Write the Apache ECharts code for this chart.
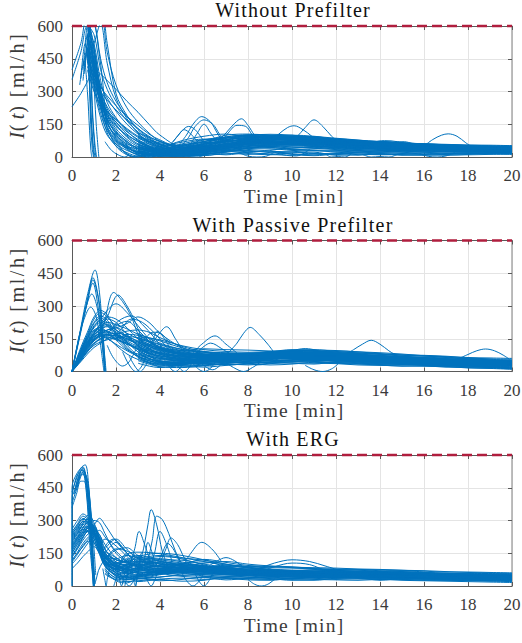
<!DOCTYPE html>
<html><head><meta charset="utf-8">
<style>html,body{margin:0;padding:0;background:#fff}#c{width:522px;height:643px}
#c text[style*="20px"],#c text[style*="19.5px"]{letter-spacing:1.2px}
#c text[style*="20.2px"]{letter-spacing:2.5px}</style>
<script src="https://cdn.jsdelivr.net/npm/echarts@6/dist/echarts.min.js"></script></head>
<body><div id="c"></div>
<script>
const panelTitles = ['Without Prefilter','With Passive Prefilter','With ERG'];
const xTicksMax = 20, yTicksMax = 600, limitValue = 600;

const timesTop = [0,.4,.7,1,1.3,1.6,2,2.5,3,3.5,4,5,6,7,8,10,12,14,16,18,20];
const runsTop = [
[400,520,640,620,450,340,255,185,130,90,60,30,35,55,70,78,66,52,44,36,30],
[355,480,600,560,400,310,235,165,115,80,55,25,30,48,62,70,60,50,40,34,28],
[230,290,345,400,380,350,310,255,205,150,100,45,40,55,65,72,62,55,48,42,38],
[null,null,560,450,330,270,210,150,105,70,48,22,28,45,60,66,58,46,38,32,26],
[null,null,610,520,350,250,180,120,75,50,35,20,32,52,72,85,72,58,48,40,34],
[null,null,540,470,310,220,160,105,70,45,30,28,50,70,85,90,78,62,52,44,38],
[null,null,500,400,280,210,150,90,55,35,28,40,65,85,95,88,70,60,50,42,36],
[null,null,580,500,300,190,120,70,40,25,22,38,60,80,90,96,82,66,56,48,40],
[null,null,520,380,250,170,110,65,30,12,15,30,55,75,88,82,74,64,54,46,42],
[null,null,470,330,220,150,95,50,20,8,18,35,58,78,100,92,80,68,58,50,44],
[null,null,620,420,240,140,80,35,10,0,10,25,42,60,78,84,76,62,52,46,40],
[null,null,450,360,300,260,215,170,130,95,70,50,60,72,80,76,68,60,50,42,35],
[null,null,530,640,660,480,330,225,160,110,72,42,48,62,74,80,70,58,46,38,32],
[null,null,600,680,700,520,290,190,125,85,58,36,44,58,68,74,64,54,44,36,30],
[null,null,430,520,610,430,270,175,110,70,45,30,38,50,60,68,60,50,42,35,30],
[null,null,490,340,200,120,70,40,25,15,20,48,70,88,98,90,78,62,50,44,38],
[null,null,540,400,230,110,50,20,5,12,30,60,80,92,102,94,84,70,60,52,46],
[null,null,440,310,180,100,60,30,15,25,40,75,95,105,92,86,72,60,54,48,42],
[null,null,660,500,260,130,60,15,0,15,35,55,72,82,86,80,66,56,48,40,34],
[null,null,400,300,240,190,140,100,70,45,32,18,25,40,52,60,54,44,36,30,26],
[null,null,560,420,270,200,145,95,60,38,22,15,22,38,50,58,50,42,34,28,24],
[null,null,480,350,260,210,170,125,90,60,38,16,20,32,48,56,48,40,32,27,22],
[null,null,560,440,290,180,105,55,25,8,8,12,28,45,66,72,66,58,50,44,40],
[null,null,640,470,280,160,90,45,18,5,5,22,38,58,76,88,76,66,58,50,46],
[null,null,460,380,320,280,235,185,145,105,78,38,30,42,56,64,58,48,42,36,32],
[null,null,570,430,300,230,175,130,95,65,42,24,36,50,64,62,56,46,38,33,29],
[null,null,525,415,285,165,85,42,22,30,48,68,82,76,70,70,64,56,46,40,36],
[null,null,495,365,235,135,75,48,38,34,30,52,66,64,60,66,62,52,44,38,34],
[null,null,605,445,275,155,100,60,45,38,35,46,52,48,58,62,52,44,37,31,27],
[null,null,415,335,255,205,160,115,80,50,28,10,14,28,44,52,46,38,30,25,21],
[null,null,590,490,310,200,130,80,48,30,18,8,12,24,40,50,44,36,28,24,20],
[null,null,505,395,265,175,115,72,36,18,12,34,46,68,82,100,86,70,60,54,50]
];
const tailTimesTop = [3,4,5,6,7,8,9,10,11,12,13,14,15,16,17,18,19,20];
const tailRunsTop = [
[60,22,14,20,30,28,26,24,30,22,18,20,16,14,18,20,18,16],
[40,18,10,14,22,34,38,30,28,26,24,18,20,22,16,14,16,18],
[90,60,50,70,100,105,100,96,90,82,74,68,62,60,58,55,54,52],
[110,72,42,62,92,100,104,100,88,80,72,72,66,60,56,52,50,48],
[30,12,18,30,40,46,44,36,32,30,28,26,24,26,24,22,22,20],
[20,8,6,12,24,40,52,46,40,34,30,28,30,28,26,26,24,24],
[75,45,28,40,64,88,96,92,80,70,64,60,56,54,50,48,46,46],
[55,30,22,34,48,60,68,70,62,50,42,38,34,32,30,32,34,34],
[35,20,16,24,38,52,58,56,50,44,38,34,32,34,36,38,38,36],
[100,50,36,50,76,94,90,84,76,72,66,58,52,50,48,44,42,42],
[45,26,30,46,56,70,78,80,72,62,54,48,44,40,38,36,36,38],
[25,10,12,22,34,30,20,14,10,16,22,28,32,36,34,28,26,28],
[70,38,24,30,44,58,64,62,58,56,50,44,42,42,44,42,40,40],
[85,55,40,52,70,80,82,74,66,58,56,52,48,46,44,40,38,44],
[50,28,34,58,72,76,72,68,64,60,58,54,50,48,46,46,44,42],
[28,16,20,36,50,66,74,84,84,76,66,58,54,52,50,50,48,50],
[65,34,20,26,36,42,50,58,54,40,34,40,46,44,40,34,30,30],
[38,14,8,16,30,24,32,40,44,38,28,22,26,30,30,30,28,26],
[95,65,55,78,88,92,86,78,72,66,62,64,60,56,52,50,48,47],
[58,32,26,44,60,72,80,88,94,78,70,62,58,54,48,42,40,36],
[18,4,2,8,14,20,12,8,16,12,8,14,10,8,12,16,14,12],
[32,6,12,6,18,12,18,22,14,18,14,10,12,18,10,10,12,14],
[48,16,4,10,26,16,10,18,22,8,12,16,8,10,8,12,20,22],
[15,2,8,18,10,22,28,12,6,14,20,12,14,12,14,18,16,18],
[42,24,32,38,46,38,44,34,38,42,34,30,28,22,22,24,24,24],
[26,12,22,44,52,56,48,42,46,36,40,36,36,38,28,26,30,30]
];
const burstTimesTop = [
[.35,.55,.7,.8,.86,.9],[.4,.6,.75,.85,.92,.98],[.5,.7,.85,.95,1.05,1.12],[.5,.65,.8,.95,1.1,1.22],[.6,.8,1,1.2,1.4,1.55],
[.55,.7,.8,.9,.95,1],[.5,.65,.78,.88,.96,1.04],[.6,.72,.84,.94,1.02,1.08],
[1.5,1.8,2.1,2.4,2.6],[1.7,2,2.4,2.8,3.1],[2.4,2.8,3.2,3.6,4],[1.9,2.2,2.5,2.9,3.3],[2.2,2.6,3,3.4,3.7],
[4.5,4.8,5.1,5.4,5.7],[4.6,5,5.3,5.6,6],[4.9,5.2,5.5,5.9,6.3,6.6,6.9],[5,5.3,5.6,6,6.4,6.7,7],[5.4,5.7,6,6.3,6.6],
[6.8,7.1,7.5,7.9,8.2,8.6],[6.6,7,7.4,7.7,8,8.3,8.7],[9,9.4,9.8,10.1,10.5,10.9,11.3],[9.8,10.2,10.6,11,11.4,11.8,12.2],[9,9.6,10.2,10.8],
[13.2,13.7,14.2,14.8,15.3],[14.2,14.7,15.1,15.5,15.9],[16,16.4,16.8,17.1,17.5,17.9,18.2],[11.5,11.8,12.1,12.4,12.7],[15.8,16.2,16.6,17,17.4],[13.2,13.6,14,14.4,14.8],[7.6,8,8.4,8.8,9.2],[5,5.3,5.6,5.9,6.2]
];
const burstValuesTop = [
[330,440,300,120,30,0],[360,520,420,150,40,0],[400,560,400,180,50,0],[420,490,600,420,150,0],[520,640,620,500,340,150],
[380,500,330,130,50,0],[350,470,360,160,60,0],[410,530,380,170,60,0],
[70,30,10,0,10],[110,50,15,0,8],[60,25,5,0,12],[90,45,12,0,10],[70,30,8,0,15],
[60,95,125,105,70],[70,120,140,125,70],[60,100,150,185,160,110,65],[55,90,140,170,150,105,60],[60,110,150,110,70],
[70,110,145,140,100,60],[70,110,155,175,145,100,65],[70,105,135,143,125,95,60],[60,90,135,170,140,95,60],[30,10,5,35],
[55,68,75,70,55],[55,68,70,60,45],[50,80,100,106,95,65,45],[15,0,2,0,15],[15,3,0,5,20],[12,0,2,0,12],[20,4,0,3,22],[22,2,0,4,25]
];

const timesMid = [0,.4,.7,1,1.3,1.6,2,2.5,3,3.5,4,5,6,7,8,10,12,14,16,18,20];
const runsMid = [
[0,60,110,150,185,210,190,160,140,120,105,90,80,75,72,72,66,56,46,40,34],
[0,70,120,160,170,160,150,130,110,95,85,70,65,62,60,60,54,46,40,34,28],
[0,50,95,130,150,175,210,230,190,140,105,82,76,70,68,74,68,60,52,44,38],
[0,80,130,175,220,250,240,200,150,115,95,78,72,72,75,78,70,60,52,46,40],
[0,90,150,210,240,280,310,270,210,150,110,84,78,74,72,80,74,66,56,48,42],
[0,60,105,145,170,190,200,220,250,225,175,110,88,80,78,82,76,66,58,50,44],
[0,100,170,240,270,250,205,160,125,100,88,72,70,68,70,75,70,62,54,46,40],
[0,70,115,150,165,170,160,135,100,70,55,50,60,66,72,66,60,52,44,38,32],
[0,110,180,250,280,260,190,135,90,60,48,44,50,60,64,70,62,54,48,42,36],
[0,60,100,140,165,155,120,80,55,40,35,40,50,58,62,62,58,50,44,36,30],
[0,75,125,170,190,185,165,145,130,115,100,85,80,76,80,84,78,70,60,50,44],
[0,85,140,185,205,215,190,155,120,85,65,58,66,72,76,88,80,70,62,54,48],
[0,65,110,145,160,150,125,95,70,55,45,38,44,52,58,56,50,42,36,32,28],
[0,90,145,190,200,180,150,170,165,135,105,80,74,68,66,68,64,56,48,40,34],
[0,55,90,120,135,145,155,160,155,140,125,100,90,84,82,90,82,72,62,52,46],
[0,95,160,220,245,225,170,110,65,38,30,34,44,54,60,64,56,48,42,36,30],
[0,80,135,180,215,240,225,170,115,80,60,52,58,64,68,72,66,58,50,44,38],
[0,45,80,110,130,150,170,185,190,180,155,115,92,86,84,86,78,68,58,50,42],
[0,70,120,165,195,205,175,120,72,40,25,32,46,56,60,70,64,56,50,42,36],
[0,100,165,225,255,235,180,130,100,82,72,60,56,56,58,58,52,46,38,32,26],
[0,65,115,155,175,190,200,175,150,125,100,78,68,62,60,64,60,54,46,38,32],
[0,85,135,170,180,170,150,125,105,90,78,66,62,66,70,78,72,64,56,48,42],
[0,75,130,175,205,225,215,195,170,140,110,76,60,54,54,60,56,50,42,36,30],
[0,60,105,140,160,170,175,165,135,105,85,70,70,74,78,80,74,68,60,52,46],
[0,90,150,200,225,210,160,105,70,50,42,46,54,62,68,76,68,62,54,46,40],
[0,50,90,125,150,165,165,150,135,120,108,95,85,78,74,76,72,64,54,46,38],
[0,80,125,160,175,180,170,150,120,75,45,40,52,64,72,82,76,66,58,50,44],
[0,70,120,165,190,185,145,100,80,68,60,55,58,62,66,68,64,58,52,44,38],
[0,95,155,205,235,215,175,140,115,95,82,66,64,70,76,72,66,60,52,44,36],
[0,55,95,130,150,155,145,125,105,85,70,62,70,78,84,92,84,74,64,54,48]
];
const tailTimesMid = [3,4,5,6,7,8,9,10,11,12,13,14,15,16,17,18,19,20];
const tailRunsMid = [
[175,130,102,90,82,82,86,92,98,96,90,82,76,72,68,62,58,56],
[160,145,118,100,92,88,92,98,100,92,84,80,76,74,70,64,62,60],
[95,50,36,42,50,56,58,60,54,48,46,44,40,36,32,28,24,20],
[70,34,28,34,44,52,50,46,44,40,38,34,32,28,26,24,20,16],
[120,85,62,52,50,54,60,62,58,56,52,50,46,42,38,34,30,26],
[140,105,84,66,58,60,68,74,72,66,60,56,52,48,44,40,36,32],
[80,42,32,28,36,48,52,50,46,42,36,32,30,30,28,26,22,18],
[155,115,96,104,100,98,94,90,88,86,82,78,74,70,66,58,54,52],
[105,72,52,44,42,44,48,54,60,62,58,52,48,44,40,36,32,30],
[60,30,24,30,38,42,44,48,52,50,44,40,36,34,30,28,24,22],
[130,98,74,60,56,62,72,80,84,80,74,68,62,56,50,46,42,38],
[88,60,46,38,40,46,54,66,70,70,66,62,56,50,46,44,40,36],
[170,140,108,80,70,68,72,82,90,94,90,86,80,72,64,56,50,46],
[115,78,58,48,46,50,58,70,76,74,68,64,60,54,52,48,46,42],
[75,48,40,36,30,36,44,52,56,58,54,48,42,38,36,34,30,26],
[145,110,88,72,64,70,84,96,94,88,80,72,66,62,58,54,50,48],
[100,66,50,54,60,66,74,84,88,82,76,70,64,58,54,50,44,40],
[125,92,70,58,66,76,88,94,92,84,74,66,58,52,48,42,38,34],
[65,38,34,40,46,40,38,44,50,46,40,36,34,32,26,22,20,14],
[150,122,94,76,74,80,90,100,96,90,86,80,70,66,62,60,56,50],
[50,22,18,26,34,30,36,40,38,36,30,28,26,24,22,18,16,12],
[85,40,26,20,28,34,30,34,42,38,34,30,24,26,20,20,18,14],
[135,80,54,36,32,38,42,38,34,44,42,38,34,30,24,16,14,10],
[38,18,30,46,52,62,64,58,48,52,50,42,38,34,34,30,26,24]
];
const burstTimesMid = [
[0,.4,.7,1.05,1.25,1.4,1.55],[0,.4,.7,.95,1.2,1.4,1.52],[0,.4,.7,.95,1.2,1.35,1.5],[0,.35,.65,.95,1.15,1.35,1.48],[0,.35,.6,.9,1.15,1.35,1.5],[0,.3,.55,.85,1.1,1.3,1.45],
[1.1,1.4,1.9,2.3,2.7,3,3.3],[1.2,1.6,2.1,2.5,2.9,3.2],[1.6,2.1,2.7,3.2,3.7,4.1],[1.7,2.2,2.7,3.2,3.8,4.4],
[1.6,1.9,2.3,2.6,2.9],[2.3,2.6,2.9,3.2,3.4],[3.6,3.9,4.3,4.7,5],[3.2,3.6,3.9,4.2,4.5],[2.9,3.3,3.7,4.1,4.5],[4.6,4.9,5.1,5.3,5.5],
[5.5,5.9,6.5,7,7.5],[5.6,6,6.3,6.8,7.2],[5.4,5.7,6,6.3,6.6],[7.1,7.5,7.8,8.1,8.5,8.9,9.2],[7,7.4,7.8,8.2,8.6],[9.5,10,10.6,11.2,11.7],[12.4,12.8,13.2,13.6,14,14.4,14.8],[17.6,18,18.4,18.8,19.2,19.6,19.9],[8,8.4,8.8,9.2,9.6],[5.8,6.1,6.4,6.7,7],[10.6,11,11.4,11.8,12.1],[2.6,2.9,3.1,3.3,3.6],[4.2,4.5,4.7,4.9,5.2]
];
const burstValuesMid = [
[0,200,350,465,360,170,0],[0,190,330,430,340,180,0],[0,180,320,420,330,190,0],[0,170,300,405,320,160,0],[0,165,280,355,290,140,0],[0,150,240,295,250,120,0],
[150,200,362,320,250,170,120],[180,250,350,300,220,140],[165,230,255,215,160,110],[140,190,240,225,170,100],
[120,60,25,45,100],[90,30,0,30,95],[120,165,205,150,100],[70,130,185,150,100],[110,150,180,170,120],[50,15,0,15,50],
[85,125,163,125,85],[80,115,130,105,78],[50,15,0,15,60],[85,130,175,202,170,125,85],[40,15,0,18,45],[80,95,105,95,78],[75,100,125,143,125,95,70],[60,78,95,103,95,75,55],[50,30,35,50,70],[45,20,8,25,55],[28,8,0,12,35],[70,18,0,20,75],[55,12,0,15,60]
];

const timesLow = [0,.25,.5,.75,1,1.25,1.5,2,2.5,3,3.5,4,5,6,7,8,10,12,14,16,18,20];
const runsLow = [
[80,105,135,160,180,150,100,80,75,80,90,95,85,75,62,58,50,46,42,38,36,32],
[120,150,180,205,200,160,115,90,95,110,115,100,90,80,70,60,56,52,48,44,40,36],
[150,190,225,250,235,170,110,70,60,70,85,90,80,70,60,52,46,42,38,36,34,32],
[180,220,265,295,270,200,125,95,85,80,75,70,62,56,52,48,42,40,38,36,34,30],
[200,240,285,310,280,220,150,120,110,100,95,90,84,78,72,66,60,56,52,48,46,42],
[230,265,300,325,290,215,140,100,78,65,60,66,80,88,82,74,66,60,56,54,50,46],
[250,280,305,300,270,235,190,130,105,92,84,80,76,72,68,62,58,54,50,46,44,40],
[170,210,240,280,300,290,240,150,110,85,70,60,55,52,50,48,44,40,38,36,34,30],
[140,180,225,260,280,310,280,205,150,105,85,78,70,66,60,56,52,48,46,44,42,40],
[210,245,270,270,240,190,130,85,55,42,45,55,70,82,90,84,72,64,60,56,54,50],
[100,130,165,200,230,255,225,160,115,90,78,72,64,60,56,56,52,50,48,46,44,42],
[235,275,310,285,220,150,95,65,85,105,120,115,95,85,76,70,64,60,56,52,50,48],
[190,225,255,275,265,215,145,85,62,52,56,62,74,80,76,68,60,56,52,50,48,44],
[160,205,250,285,270,200,120,75,70,85,100,105,92,78,66,56,48,44,42,40,38,34],
[220,255,290,305,260,175,105,60,48,44,50,60,66,70,62,50,44,42,40,38,36,32],
[130,170,210,240,250,235,170,110,92,96,105,110,102,92,80,72,68,64,60,58,56,54],
[245,285,320,300,245,165,110,95,100,95,90,88,82,76,70,64,58,54,50,48,46,42],
[175,215,245,250,215,160,115,105,115,125,128,120,105,88,76,68,62,58,54,50,48,46],
[205,240,260,245,200,145,90,52,38,36,40,52,60,58,54,48,42,38,36,34,32,30],
[115,155,195,225,240,215,150,100,72,58,52,58,66,72,74,66,56,50,46,42,40,36],
[260,300,330,310,255,180,115,88,80,76,72,70,68,64,62,60,58,54,50,46,44,42],
[150,195,235,265,250,190,125,125,140,125,100,82,70,62,58,52,50,48,46,44,42,38],
[195,230,270,290,255,185,130,170,160,130,105,90,78,68,58,54,50,46,44,42,40,36],
[225,260,295,280,230,165,100,60,42,50,70,95,100,92,82,72,66,62,58,54,50,48],
[135,175,220,255,245,195,135,90,88,100,112,105,88,74,64,56,52,50,48,46,46,44],
[110,145,185,215,235,225,165,120,110,112,108,100,94,86,76,66,60,56,52,50,48,46],
[240,270,295,295,250,175,110,78,66,60,62,68,72,76,72,64,54,50,46,44,42,38],
[165,200,235,270,275,220,140,95,120,140,130,112,98,90,84,78,70,66,62,60,58,56],
[215,250,280,290,240,160,95,45,30,42,60,76,84,84,78,70,64,60,54,50,46,44],
[185,220,250,265,260,205,130,105,98,88,82,78,72,66,62,60,60,58,56,52,50,48]
];
const tailTimesLow = [1.5,2,2.5,3,4,5,6,7,8,9,10,11,12,13,14,15,16,17,18,19,20];
const tailRunsLow = [
[120,60,40,36,42,48,44,38,34,32,30,32,34,32,30,30,28,26,26,24,22],
[150,200,150,120,135,128,118,100,88,84,82,80,78,76,74,72,70,66,62,60,58],
[105,80,145,155,148,130,112,96,90,88,86,84,82,78,76,72,68,64,64,62,60],
[90,45,30,40,60,72,68,56,46,40,38,40,42,40,38,36,34,32,30,28,26],
[135,110,90,75,58,44,38,36,32,30,36,42,46,44,40,36,32,30,28,24,20],
[100,70,55,66,82,98,122,108,94,90,84,76,70,66,62,60,56,54,50,48,46],
[160,130,105,118,125,110,92,82,74,70,66,62,60,62,64,66,62,58,54,50,48],
[115,90,72,60,70,90,104,112,100,92,88,80,72,68,66,62,60,58,56,54,52],
[80,40,50,82,110,94,72,58,50,46,44,44,46,50,52,54,50,46,42,40,38],
[140,95,80,100,88,70,52,44,40,36,34,36,40,44,46,44,40,38,36,34,30],
[125,165,175,140,100,82,64,52,48,52,58,62,64,62,58,54,48,44,42,40,36],
[95,55,65,90,120,118,100,86,78,74,70,72,70,68,64,58,52,48,46,44,42],
[170,215,168,130,140,124,96,78,66,60,56,54,52,50,48,46,44,42,40,38,34],
[110,75,95,110,92,62,46,40,46,54,60,66,68,66,60,52,46,42,38,34,28],
[130,100,60,48,54,66,86,92,84,76,68,64,58,54,50,46,42,38,36,32,30],
[85,50,35,45,68,80,70,62,58,56,54,50,46,42,38,36,36,34,32,30,28],
[145,120,110,135,150,140,120,100,82,74,72,74,76,72,68,60,54,52,50,46,44],
[75,35,28,32,40,56,80,96,88,66,52,46,42,40,42,44,42,40,38,36,32],
[155,105,125,85,76,104,110,90,72,64,62,68,72,74,70,66,60,56,52,52,50],
[100,85,75,70,66,76,90,74,60,50,48,52,56,58,56,56,54,48,44,42,40],
[60,28,20,24,32,36,30,34,28,26,34,30,28,26,30,26,24,22,20,18,16],
[70,24,14,34,24,30,40,28,36,40,42,36,30,34,34,30,26,26,24,22,24],
[55,30,44,20,30,22,26,42,40,34,26,26,36,38,26,34,30,30,28,26,26]
];
const burstTimesLow = [
[0,0,.25,.5,.7,.85,1],[0,0,.2,.45,.65,.8,.98],[0,.2,.4,.6,.75,.9,1.02],[.05,.25,.45,.6,.78,.9,1],[0,.2,.45,.6,.8,.95,1.08],[0,.2,.4,.55,.75,.9,1.05],
[.1,.3,.48,.62,.76,.88,.98],[.15,.32,.5,.64,.78,.9,1],[.2,.36,.52,.66,.8,.92,1.04],[.1,.28,.46,.6,.74,.86,.96],
[1.3,1.6,1.9,2.2,2.5,2.8],[1.2,1.5,1.8,2.2,2.6],[1,1.1,1.2,1.4,1.6],[1.9,2.05,2.15,2.3,2.45],[2.4,2.5,2.6,2.7,2.85],[2.9,3,3.05,3.1,3.2],
[2,2.15,2.25,2.35,2.5],[1.4,1.5,1.55,1.6,1.75],[2.7,2.8,2.88,2.95,3.1],
[2.6,2.85,3.05,3.3,3.6],[3,3.25,3.45,3.6,3.85,4.1,4.35],[3.4,3.65,3.85,4.1,4.4,4.7,5.05],[3.5,3.75,4,4.3,4.55],[3.1,3.3,3.45,3.65,3.85],[4,4.25,4.5,4.8,5.1,5.4],[3.8,4.1,4.35,4.6,4.9],
[5.1,5.4,5.9,6.4,6.8],[6.2,6.6,7,7.4,7.8],[5,5.2,5.5,5.8,6],[5.6,5.8,6,6.2,6.4],[7.8,8.5,9.2,10,10.8,11.5,12.2],[8.5,9.2,10,10.8,11.5],[8,8.3,8.6,8.9,9.2],[12.5,13.5,14.5,15.5,16.5],[2.2,2.4,2.6,2.8,3],[3.3,3.45,3.6,3.75,3.9]
];
const burstValuesLow = [
[0,450,520,545,420,180,0],[0,390,500,530,430,200,0],[430,490,540,555,470,240,0],[420,470,530,520,430,220,0],[380,440,510,510,400,240,50],[360,420,480,480,340,170,10],
[430,500,535,500,390,200,0],[450,510,540,490,380,190,0],[440,490,525,480,370,210,20],[420,480,520,490,400,220,0],
[140,195,215,190,150,110],[170,215,200,165,125],[0,30,70,110,135],[0,50,95,130,150],[0,45,90,125,145],[0,60,100,140,155],
[110,35,0,40,105],[80,25,0,30,95],[100,30,0,35,110],
[90,170,250,190,100],[80,170,280,350,280,160,90],[90,210,320,305,240,160,90],[70,150,250,190,110],[85,130,200,150,90],[105,165,220,190,130,90],[90,150,195,170,110],
[100,150,200,165,110],[90,115,130,115,85],[60,25,0,25,60],[55,18,0,20,60],[55,80,105,120,112,92,70],[62,88,105,98,70],[30,8,0,8,30],[55,62,70,68,58],[55,20,0,25,60],[60,20,0,25,65]
];

const panels = [
  {times:timesTop, runs:runsTop, tt:tailTimesTop, tr:tailRunsTop, bt:burstTimesTop, bv:burstValuesTop, top:26},
  {times:timesMid, runs:runsMid, tt:tailTimesMid, tr:tailRunsMid, bt:burstTimesMid, bv:burstValuesMid, top:240.5},
  {times:timesLow, runs:runsLow, tt:tailTimesLow, tr:tailRunsLow, bt:burstTimesLow, bv:burstValuesLow, top:455}
];
const H = 131, LEFT = 72, W = 440;
const FONT = '"Liberation Serif","DejaVu Serif",serif';
const axisCol = '#5a5a5a', textCol = '#3a3a3a', gridCol = '#e4e4e4', lineCol = '#0072BD', limitCol = '#B01E3E';

const grid=[], xAxis=[], yAxis=[], title=[], series=[];
panels.forEach((p,i)=>{
  grid.push({left:LEFT, width:W, top:p.top, height:H, containLabel:false, outerBoundsMode:'none'});
  title.push({text:panelTitles[i], left:288, top:p.top-31, textAlign:'center',
    textStyle:{fontFamily:FONT,fontWeight:'normal',fontSize:20,color:'#111'}});
  xAxis.push({type:'value',gridIndex:i,min:0,max:xTicksMax,interval:2,position:'bottom',
    name:'Time [min]',nameLocation:'middle',nameGap:29,
    nameTextStyle:{fontFamily:FONT,fontSize:19.5,color:textCol,padding:[0,0,0,4]},
    axisLine:{onZero:false,lineStyle:{color:axisCol,width:1}},
    axisTick:{inside:true,length:4,lineStyle:{color:axisCol}},
    axisLabel:{fontFamily:FONT,fontSize:17,color:textCol,margin:10,showMinLabel:true,showMaxLabel:true,hideOverlap:false},
    splitLine:{show:true,lineStyle:{color:gridCol,width:1}}});
  xAxis.push({type:'value',gridIndex:i,min:0,max:xTicksMax,interval:2,position:'top',
    axisLine:{onZero:false,lineStyle:{color:axisCol}},
    axisTick:{inside:true,length:4,lineStyle:{color:axisCol}},axisLabel:{show:false},splitLine:{show:false}});
  yAxis.push({type:'value',gridIndex:i,min:0,max:yTicksMax,interval:150,position:'left',
    name:'{j|I}{s|(}{i|t}{s|)}{g| }{s|[ml/h]}',nameLocation:'middle',nameGap:44,nameRotate:90,
    nameTextStyle:{fontFamily:FONT,fontSize:20,color:textCol,
      rich:{i:{fontFamily:FONT,fontSize:20.5,fontStyle:'italic',color:textCol,padding:[0,2,0,2]},
            j:{fontFamily:FONT,fontSize:20.5,fontStyle:'italic',color:textCol,padding:[0,2,0,7]},
            s:{fontFamily:FONT,fontSize:20.2,color:textCol,padding:[0,2,0,0]},
            g:{fontFamily:FONT,fontSize:20,color:textCol,padding:[0,8,0,0]}}},
    axisLine:{onZero:false,lineStyle:{color:axisCol}},
    axisTick:{inside:true,length:4,lineStyle:{color:axisCol}},
    axisLabel:{fontFamily:FONT,fontSize:17,color:textCol,margin:9,showMinLabel:true,showMaxLabel:true,hideOverlap:false},
    splitLine:{show:true,lineStyle:{color:gridCol,width:1}}});
  yAxis.push({type:'value',gridIndex:i,min:0,max:yTicksMax,interval:150,position:'right',
    axisLine:{onZero:false,lineStyle:{color:'#a8a8a8',width:1.5}},
    axisTick:{inside:true,length:4,lineStyle:{color:axisCol}},axisLabel:{show:false},splitLine:{show:false}});
  const addLine=(ts,vs)=>series.push({type:'line',xAxisIndex:i*2,yAxisIndex:i*2,data:ts.map((t,k)=>[t,vs[k]]),
    smooth:0.35,symbol:'none',clip:true,silent:true,lineStyle:{color:lineCol,width:1},z:3});
  p.runs.forEach(r=>addLine(p.times,r));
  p.tr.forEach(r=>addLine(p.tt,r));
  p.bt.forEach((ts,k)=>addLine(ts,p.bv[k]));
  series.push({type:'line',xAxisIndex:i*2,yAxisIndex:i*2,data:[[0,limitValue],[xTicksMax,limitValue]],
    symbol:'none',clip:false,silent:true,lineStyle:{color:limitCol,width:2.5,type:[10,5]},z:6});
});
const chart = echarts.init(document.getElementById('c'),null,{renderer:'svg'});
chart.setOption({animation:false,backgroundColor:'#fff',title,grid,xAxis,yAxis,series});
</script></body></html>
